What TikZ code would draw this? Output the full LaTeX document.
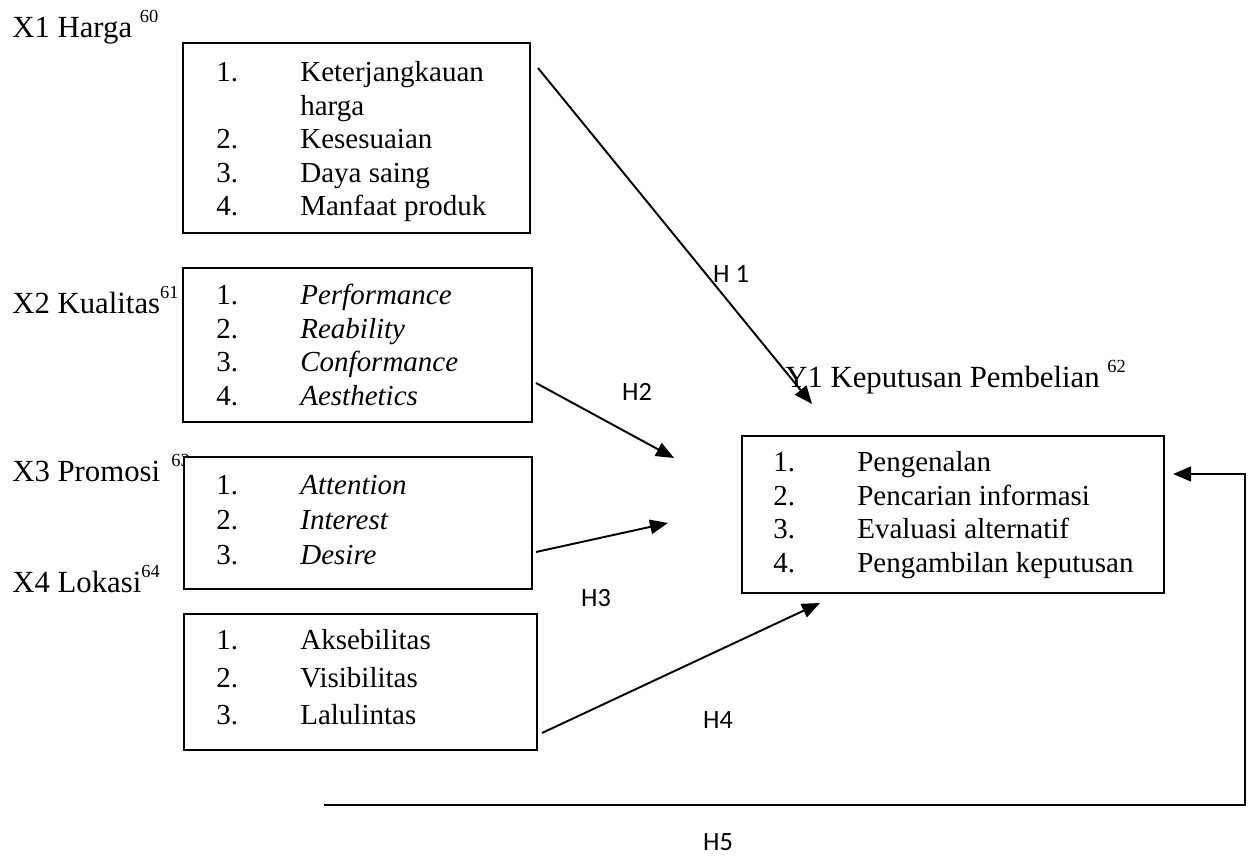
\documentclass[tikz,border=0pt]{standalone}
\usepackage{fontspec}
\setmainfont{Liberation Serif}
\newfontfamily\hfont{Carlito}
\usepackage{tikz}
\usetikzlibrary{arrows.meta}
\usetikzlibrary{positioning}
\newcommand{\fnote}[1]{\raisebox{0.3cm}{\fontsize{10.5}{10.5}\selectfont #1}}

\begin{document}
\begin{tikzpicture}[x=0.2mm,y=-0.2mm,>={Triangle[length=3.6mm,width=2.9mm]},
	var node/.style={anchor=base west,inner sep=0,font=\fontsize{17.5}{21}\selectfont},
	box node/.style={draw,line width=1pt,fill=white,anchor=north west,inner sep=0,outer sep=0},
	list node/.style={anchor=base west,inner sep=0,font=\fontsize{16.5}{19}\selectfont},
	hyp node/.style={inner sep=0,font=\hfont\fontsize{15}{15}\selectfont},
	link/.style={->,line width=1.1pt}]
		\useasboundingbox (0,0) rectangle (1248,856);

		\node[var node] (x1_lbl) at (12,38) {X1 Harga \fnote{60}};
		\node[var node] (x2_lbl) at (12,314) {X2 Kualitas\fnote{61}};
		\node[var node] (x3_lbl) at (12,482) {X3 Promosi \hspace{2pt}\fnote{63}};
		\node[var node] (x4_lbl) at (12,593) {X4 Lokasi\fnote{64}};
		\node[var node] (y1_lbl) at (785,388) {Y1 Keputusan Pembelian \fnote{62}};

		\node[box node,minimum width=6.94cm,minimum height=3.8cm] (x1) at (183,43) {};
		\node[box node,minimum width=6.98cm,minimum height=3.08cm] (x2) at (183,268) {};
		\node[box node,minimum width=6.96cm,minimum height=2.64cm] (x3) at (184,457) {};
		\node[box node,minimum width=7.06cm,minimum height=2.72cm] (x4) at (184,614) {};
		\node[box node,minimum width=8.44cm,minimum height=3.14cm] (y1) at (742,436) {};

		\node[list node] (x1_items) at ([shift={(33,39)}]x1.north west)
			{\begin{tabular}[t]{@{}p{1.68cm}@{}l@{}}
			1. & Keterjangkauan\\ & harga\\ 2. & Kesesuaian\\ 3. & Daya saing\\ 4. & Manfaat produk
			\end{tabular}};
		\node[list node] (x2_items) at ([shift={(33,37)}]x2.north west)
			{\begin{tabular}[t]{@{}p{1.68cm}@{}l@{}}
			1. & \textit{Performance}\\ 2. & \textit{Reability}\\ 3. & \textit{Conformance}\\ 4. & \textit{Aesthetics}
			\end{tabular}};
		\node[list node] (x3_items) at ([shift={(32,38)}]x3.north west)
			{\renewcommand{\arraystretch}{1.045}\begin{tabular}[t]{@{}p{1.68cm}@{}l@{}}
			1. & \textit{Attention}\\ 2. & \textit{Interest}\\ 3. & \textit{Desire}
			\end{tabular}};
		\node[list node] (x4_items) at ([shift={(32,36)}]x4.north west)
			{\renewcommand{\arraystretch}{1.12}\begin{tabular}[t]{@{}p{1.68cm}@{}l@{}}
			1. & Aksebilitas\\ 2. & Visibilitas\\ 3. & Lalulintas
			\end{tabular}};
		\node[list node] (y1_items) at ([shift={(31,36)}]y1.north west)
			{\begin{tabular}[t]{@{}p{1.68cm}@{}l@{}}
			1. & Pengenalan\\ 2. & Pencarian informasi\\ 3. & Evaluasi alternatif\\ 4. & Pengambilan keputusan
			\end{tabular}};

		\coordinate (h1_start) at (538,68);
		\coordinate (h1_end) at (812,404);
		\coordinate (h2_start) at (536,383);
		\coordinate (h2_end) at (674,458);
		\coordinate (h3_start) at (536,552);
		\coordinate (h3_end) at (668,523);
		\coordinate (h4_start) at (542,733);
		\coordinate (h4_end) at (820,603);
		\coordinate (h5_start) at (324,805);
		\coordinate (h5_turn) at (1245,474);
		\coordinate (h5_end) at (1173,474);

		\draw[link] (h1_start) -- (h1_end);
		\draw[link] (h2_start) -- (h2_end);
		\draw[link] (h3_start) -- (h3_end);
		\draw[link] (h4_start) -- (h4_end);
		\draw[link,line width=1.5pt] (h5_start) -| (h5_turn) -- (h5_end);

		\node[hyp node] (h1) at (731,274) {H 1};
		\node[hyp node] (h2) at (637,392) {H2};
		\node[hyp node] (h3) at (596,598) {H3};
		\node[hyp node] (h4) at (718,720) {H4};
		\node[hyp node] (h5) at (718,842) {H5};
	\end{tikzpicture}
\end{document}
